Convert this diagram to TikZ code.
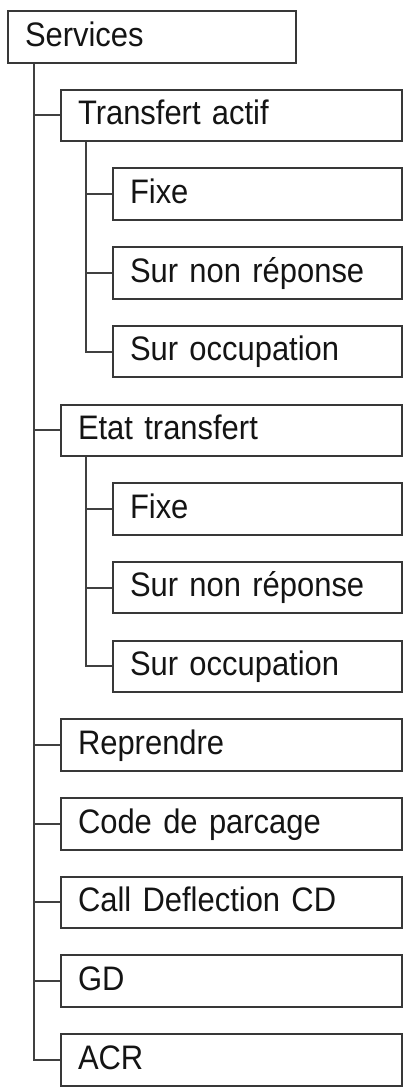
\documentclass[tikz,border=0pt]{standalone}
\usepackage{fontspec}
\setmainfont{Liberation Sans}[FakeStretch=0.91]
\begin{document}
\begin{tikzpicture}[x=1pt,y=-1pt,
  box/.style={draw=black!78, line width=2pt, rectangle, anchor=north west,
    minimum height=51.5pt, inner xsep=17pt, inner ysep=0pt, align=left,
    text height=25pt, text depth=6.5pt, font=\fontsize{34}{40}\selectfont, text=black!92},
  lvl0/.style={box, minimum width=288pt, text width=254pt},
  lvl1/.style={box, minimum width=341pt, text width=307pt},
  lvl2/.style={box, minimum width=289pt, text width=255pt},
  conn/.style={draw=black!75, line width=2pt}]
\useasboundingbox (0,0) rectangle (409,1090);
\def\dy{78.7}
\node[lvl0] (serv) at (7,10) {Services};
\node[lvl1] (ta) at (60,{10+1*\dy}) {Transfert actif};
\node[lvl2] (ta1) at (112,{10+2*\dy}) {Fixe};
\node[lvl2] (ta2) at (112,{10+3*\dy}) {Sur non réponse};
\node[lvl2] (ta3) at (112,{10+4*\dy}) {Sur occupation};
\node[lvl1] (et) at (60,{10+5*\dy}) {Etat transfert};
\node[lvl2] (et1) at (112,{10+6*\dy}) {Fixe};
\node[lvl2] (et2) at (112,{10+7*\dy}) {Sur non réponse};
\node[lvl2] (et3) at (112,{10+8*\dy}) {Sur occupation};
\node[lvl1] (rep) at (60,{10+9*\dy}) {Reprendre};
\node[lvl1] (code) at (60,{10+10*\dy}) {Code de parcage};
\node[lvl1] (cd) at (60,{10+11*\dy}) {Call Deflection CD};
\node[lvl1] (gd) at (60,{10+12*\dy}) {GD};
\node[lvl1] (acr) at (60,{10+13*\dy}) {ACR};
% main trunk
\coordinate (t0) at ([xshift=27pt]serv.south west);
\path[conn] (t0) |- (acr.west);
\foreach \n in {ta,et,rep,code,cd,gd} \path[conn] (\n.west) -- (\n.west -| t0);
% sub trunks
\coordinate (t1) at ([xshift=26pt]ta.south west);
\path[conn] (t1) |- (ta3.west);
\foreach \n in {ta1,ta2} \path[conn] (\n.west) -- (\n.west -| t1);
\coordinate (t2) at ([xshift=26pt]et.south west);
\path[conn] (t2) |- (et3.west);
\foreach \n in {et1,et2} \path[conn] (\n.west) -- (\n.west -| t2);
\end{tikzpicture}
\end{document}
